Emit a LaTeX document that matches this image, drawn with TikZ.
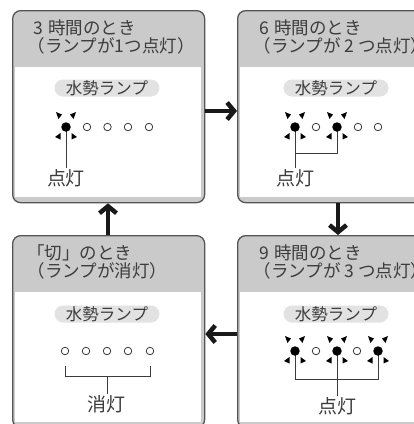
\documentclass[tikz,border=0pt]{standalone}
\usepackage{fontspec}
\setmainfont{Noto Sans CJK JP}
\usetikzlibrary{arrows.meta}
\definecolor{hdr}{RGB}{202,202,202}
\definecolor{pillc}{RGB}{226,226,226}
\definecolor{frm}{RGB}{85,85,85}
\definecolor{ink}{RGB}{60,60,60}
\begin{document}
\begin{tikzpicture}[x=1pt,y=-1pt,
  boxframe/.style={draw=frm, line width=1.3pt, fill=hdr, rounded corners=8pt, anchor=north west, inner sep=0pt},
  head/.style={anchor=base west, font=\fontsize{17.5}{19}\selectfont, text=ink, inner sep=0pt},
  pill/.style={fill=pillc, rounded corners=8.5pt, minimum width=105pt, minimum height=17pt, inner sep=0pt, font=\fontsize{16.5}{16}\selectfont, text=ink},
  lampon/.style={circle, fill=black, inner sep=0pt, minimum size=9.5pt},
  lampoff/.style={circle, draw=ink, line width=0.8pt, fill=white, inner sep=0pt, minimum size=7.5pt},
  lbl/.style={font=\fontsize{19}{19}\selectfont, text=ink, inner sep=1pt},
  wire/.style={draw=ink, line width=0.9pt},
  rayc/.style={fill=black},
  flow/.style={line width=4.5pt, -{Straight Barb[length=7pt,width=17pt]}, draw=black!90}
]
\useasboundingbox (0,0) rectangle (414,424);
\clip (0,0) rectangle (414,424);
% boxes
\node[boxframe, minimum width=192pt, minimum height=192pt] (tl) at (12,10) {};
\node[boxframe, minimum width=190pt, minimum height=192pt] (tr) at (237,10) {};
\node[boxframe, minimum width=192pt, minimum height=192pt] (bl) at (12,235) {};
\node[boxframe, minimum width=190pt, minimum height=192pt] (br) at (237,235) {};
\fill[white] (15,67) rectangle (201,197);
\fill[white] (240,67) rectangle (430,197);
\fill[white] (15,292) rectangle (201,422);
\fill[white] (240,292) rectangle (430,422);
% headers
\node[head] (h1a) at (33,34) {3\hspace{0.3em}時間のとき};
\node[head] (h1b) at (33,52) {\hspace*{-0.3em}（ランプが1つ点灯）};
\node[head] (h2a) at (259,34) {6\hspace{0.3em}時間のとき};
\node[head] (h2b) at (259,52) {\hspace*{-0.3em}（ランプが 2 つ点灯）};
\node[head] (h3a) at (33,259) {\hspace*{-0.35em}「切」のとき};
\node[head] (h3b) at (33,277) {\hspace*{-0.3em}（ランプが消灯）};
\node[head] (h4a) at (259,259) {9\hspace{0.3em}時間のとき};
\node[head] (h4b) at (259,277) {\hspace*{-0.3em}（ランプが 3 つ点灯）};
% pills
\node[pill] (p1) at (107,88) {水勢ランプ};
\node[pill] (p2) at (336,88) {水勢ランプ};
\node[pill] (p3) at (107,314) {水勢ランプ};
\node[pill] (p4) at (336,314) {水勢ランプ};
% labels
\node[lbl] (l1) at (66,178) {点灯};
\node[lbl] (l2) at (295,178) {点灯};
\node[lbl] (l3) at (107,404) {消灯};
\node[lbl] (l4) at (337,406) {点灯};
% wires (drawn under lamps)
\coordinate (a1c) at (66,127);
\coordinate (b1c) at (295,127);
\coordinate (b3c) at (337,127);
\coordinate (c1c) at (295,351);
\coordinate (c3c) at (337,351);
\coordinate (c5c) at (378,351);
\coordinate (d1c) at (65,351);
\coordinate (d3c) at (107,351);
\coordinate (d5c) at (150,351);
\draw[wire] (a1c) -- (l1.north);
\draw[wire] (b1c) -- (l2.north);
\draw[wire] (b1c |- 0,153) -| (b3c);
\draw[wire] (c1c) |- (c5c |- 0,379) -- (c5c);
\draw[wire] (c3c) -- (l4.north);
\draw[wire] (d1c |- 0,366) |- (d5c |- 0,376) -- (d5c |- 0,366);
\draw[wire] (d3c |- 0,376) -- (l3.north);
% lamps
\node[lampon] (a1) at (a1c) {};
\node[lampoff] (a2) at (87,127) {};
\node[lampoff] (a3) at (107.5,127) {};
\node[lampoff] (a4) at (128,127) {};
\node[lampoff] (a5) at (149,127) {};
\node[lampon] (b1) at (b1c) {};
\node[lampoff] (b2) at (316,127) {};
\node[lampon] (b3) at (b3c) {};
\node[lampoff] (b4) at (358,127) {};
\node[lampoff] (b5) at (378,127) {};
\node[lampon] (c1) at (c1c) {};
\node[lampoff] (c2) at (316,351) {};
\node[lampon] (c3) at (c3c) {};
\node[lampoff] (c4) at (357,351) {};
\node[lampon] (c5) at (c5c) {};
\node[lampoff] (d1) at (d1c) {};
\node[lampoff] (d2) at (86,351) {};
\node[lampoff] (d3) at (d3c) {};
\node[lampoff] (d4) at (128,351) {};
\node[lampoff] (d5) at (d5c) {};
% rays
\foreach \n in {a1,b1,b3,c1,c3,c5}{
  \fill[rayc] ([shift={(-10,-15)}]\n.center) -- ([shift={(-4,-12.5)}]\n.center) -- ([shift={(-7.5,-8)}]\n.center) -- cycle;
  \fill[rayc] ([shift={(10,-15)}]\n.center) -- ([shift={(4,-12.5)}]\n.center) -- ([shift={(7.5,-8)}]\n.center) -- cycle;
  \fill[rayc] ([shift={(-11,10)}]\n.center) -- ([shift={(-5.5,6)}]\n.center) -- ([shift={(-5.5,12.5)}]\n.center) -- cycle;
  \fill[rayc] ([shift={(11,10)}]\n.center) -- ([shift={(5.5,6)}]\n.center) -- ([shift={(5.5,12.5)}]\n.center) -- cycle;
}
% flow arrows
\draw[flow] (tl.east |- 0,111) -- (tr.west |- 0,111);
\draw[flow] (tr.south -| 338,0) -- (br.north -| 338,0);
\draw[flow] (br.west |- 0,334) -- (bl.east |- 0,334);
\draw[flow] (bl.north -| 108,0) -- (tl.south -| 108,0);
\end{tikzpicture}
\end{document}
